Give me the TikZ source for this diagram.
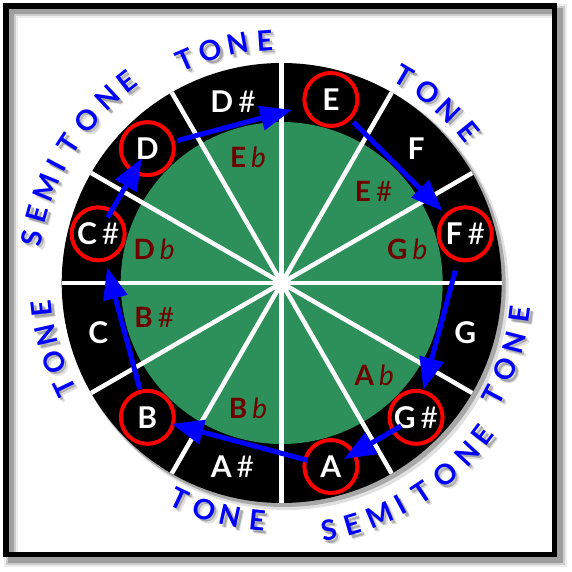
\documentclass[tikz,border=0pt]{standalone}
\usepackage{fontspec}
\setmainfont{Lato}
\usetikzlibrary{arrows.meta}
\definecolor{disc}{RGB}{45,143,90}
\definecolor{flat}{RGB}{110,0,0}
\newcommand{\sharpmark}{\hspace{5pt}{\mdseries\#}}
\newcommand{\flatmark}{\hspace{5pt}{\mdseries\itshape b}}

\begin{document}
\begin{tikzpicture}[x=1pt,y=1pt,
    note/.style={text=white,font=\fontsize{30}{30}\selectfont\bfseries,inner sep=0pt},
    key/.style={note,draw=red,line width=4pt,circle,minimum size=53pt},
    alt/.style={text=flat,font=\fontsize{28}{28}\selectfont\bfseries,inner sep=0pt},
    letter/.style={text=blue,font=\fontsize{28}{28}\selectfont\bfseries,inner sep=0pt},
    letter shadow/.style={letter,text=black}]
      \useasboundingbox (-281.7,-289) rectangle (289.3,283);
      % frame and its shadow
      \foreach \w/\o in {6/.22,10/.14,14/.07}
        \draw[line width=\w pt,black,opacity=\o] (-270.7,-276.5) rectangle (277.8,272);
      \draw[line width=5.5pt] (-275.7,-271.5) rectangle (272.8,277);
      % wheel
      \fill[black,opacity=.25] (3,-3) circle (221);
      \fill[black,opacity=.12] (5,-5) circle (222);
      \fill (0,0) circle (220);
      \fill[disc] (0,0) circle (161);
      \foreach \a in {0,30,...,330}
        \draw[white,line width=4.5pt] (0,0) -- (\a:220);
      \draw
        (15:190) node[key] (Fs){F\sharpmark}
        (45:190) node[note] (F){F}
        (75:190) node[key] (E){E}
        (105:188) node[note] (Ds){D\sharpmark}
        (135:190) node[key] (D){D}
        (165:190) node[key] (Cs){C\sharpmark}
        (195:190) node[note] (C){C}
        (225:190) node[key] (B){B}
        (255:190) node[note] (As){A\sharpmark}
        (285:190) node[key] (A){A}
        (315:190) node[key] (Gs){G\sharpmark}
        (345:190) node[note] (G){G};
      \draw
        (15:130) node[alt] (Gb){G\flatmark}
        (45:130) node[alt] (Es){E\sharpmark}
        (105:130) node[alt] (Eb){E\flatmark}
        (165:132) node[alt] (Db){D\flatmark}
        (195:132) node[alt] (Bs){B\sharpmark}
        (255:130) node[alt] (Bb){B\flatmark}
        (315:131) node[alt] (Ab){A\flatmark};
      \begin{scope}[blue,line width=5pt,-{Triangle[length=32pt,width=24pt]}]
        \draw[shorten <=2.5pt,shorten >=11.5pt] (D) to (E);
        \draw[shorten <=3.5pt,shorten >=3.5pt] (E) to (Fs);
        \draw[shorten <=9.5pt] (Fs) to (Gs);
        \draw[shorten <=-11.5pt,shorten >=-13.5pt] (Gs) to (A);
        \draw[shorten <=-4.5pt,shorten >=-3.5pt] (A) to (B);
        \draw[shorten <=0.5pt,shorten >=6pt] (B) to (Cs);
        \draw[shorten <=-9.5pt,shorten >=-17.5pt] (Cs) to (D);
      \end{scope}
      % step names round the wheel: start angle, direction, radius, turn, letters/offsets
      \foreach \start/\dir/\r/\turn/\word in {
          113.5/-1/243/-90/{T/0,O/6.5,N/13,E/19.5},
          59.5/-1/240/-90/{T/0,O/6.8,N/13.6,E/20.4},
          -27.9/1/240/90/{T/0,O/6.8,N/13.6,E/20.4},
          -79.2/1/252/90/{S/0,E/5.5,M/12,I/17.4,T/22.9,O/29.7,N/36.6,E/42.1},
          -115.4/1/239/90/{T/0,O/6.5,N/13,E/19.5},
          205.6/-1/241/-90/{T/0,O/6.5,N/13,E/19.5},
          169.8/-1/254/-90/{S/0,E/5.5,M/12,I/17.4,T/22.9,O/29.7,N/36.6,E/42.1}}
        \foreach \ch/\d in \word {
          \pgfmathsetmacro\a{\start+\dir*\d}
          \node[letter shadow,opacity=.12,xshift=4pt,yshift=-4pt,rotate=\a+\turn] at (\a:\r) {\ch};
          \node[letter shadow,opacity=.25,xshift=2.5pt,yshift=-2.5pt,rotate=\a+\turn] at (\a:\r) {\ch};
          \node[letter,rotate=\a+\turn] at (\a:\r) {\ch};
        }
    \end{tikzpicture}
\end{document}
